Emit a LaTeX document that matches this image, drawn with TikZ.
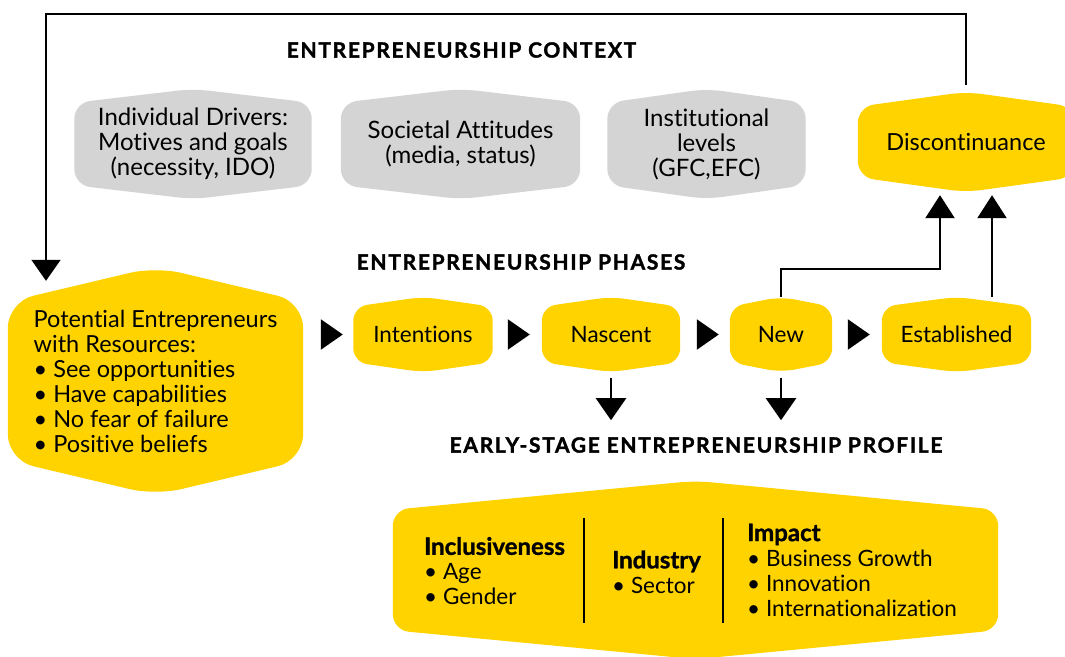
\documentclass[tikz,border=0pt]{standalone}
\usepackage{fontspec}
\setmainfont{Lato}[Ligatures=NoCommon, BoldFeatures={FakeBold=1.2}]
\newfontfamily\headfont{Lato}[Ligatures=NoCommon, LetterSpace=8, BoldFeatures={FakeBold=1.6}]
\usetikzlibrary{
    arrows.meta,
    backgrounds,
    positioning
}
\definecolor{gemyellow}{RGB}{255,211,0}
\definecolor{gemgrey}{RGB}{212,212,212}
\tikzset{
    hexnode/.style={inner sep=0pt, align=center, font=\fontsize{22.5}{25}\selectfont},
    greybox/.style={hexnode, font=\fontsize{24}{25}\selectfont, minimum height=82pt},
    phasebox/.style={hexnode, minimum height=55pt},
    listnode/.style={inner sep=0pt, align=left, anchor=west, font=\fontsize{22.5}{25}\selectfont},
    heading/.style={inner sep=0pt, font=\headfont\bfseries\fontsize{21}{23}\selectfont},
    bigtip/.style={-{Triangle[length=22pt,width=30pt]}, line width=2.4pt},
    uptip/.style={-{Triangle[length=23pt,width=29pt]}, line width=2.4pt}
}
\newcommand{\boxhead}[1]{{\fontsize{24}{25}\selectfont\bfseries #1}}

\begin{document}
\begin{tikzpicture}[x=1pt, y=-1pt]
    \useasboundingbox (0,0) rectangle (1065,656);

    % context
    \node[heading] (ctxtitle) at (461.5,50) {ENTREPRENEURSHIP CONTEXT};
    \node[greybox, minimum width=237pt] (drv) at (193,144)
        {Individual Drivers:\\Motives and goals\\(necessity, IDO)};
    \node[greybox, minimum width=239pt] (soc) at (460.5,144)
        {Societal Attitudes\\(media, status)};
    \node[greybox, minimum width=198pt] (inst) at (706.5,144)
        {Institutional\\levels\\(GFC,EFC)};
    \node[hexnode, font=\fontsize{23.5}{25}\selectfont, minimum width=216pt, minimum height=70pt] (disc) at (966,142)
        {Discontinuance};

    % phases
    \node[heading] (phtitle) at (521,262) {ENTREPRENEURSHIP PHASES};
    \node[hexnode, align=left, font=\fontsize{23.5}{25}\selectfont, minimum width=295pt, minimum height=158pt] (pot) at (155.5,381)
        {Potential Entrepreneurs\\with Resources:\\\textbullet\ See opportunities\\\textbullet\ Have capabilities\\\textbullet\ No fear of failure\\\textbullet\ Positive beliefs};
    \node[phasebox, minimum width=139pt] (int) at (423,334.5) {Intentions};
    \node[phasebox, minimum width=138pt] (nas) at (611,334.5) {Nascent};
    \node[phasebox, minimum width=102pt] (new) at (781,334.5) {New};
    \node[phasebox, minimum width=149pt] (est) at (956.5,334.5) {Established};

    % profile
    \node[heading] (proftitle) at (696,445) {EARLY-STAGE ENTREPRENEURSHIP PROFILE};
    \node[hexnode, minimum width=605pt, minimum height=120pt] (prof) at (695.5,570) {};
    \node[listnode] (inc) at (424,571)
        {\boxhead{Inclusiveness}\\\textbullet\ Age\\\textbullet\ Gender};
    \node[listnode] (ind) at (612,572)
        {\boxhead{Industry}\\\textbullet\ Sector};
    \node[listnode] (imp) at (747,570)
        {\boxhead{Impact}\\\textbullet\ Business Growth\\\textbullet\ Innovation\\\textbullet\ Internationalization};
    \draw[line width=1.2pt] (584,518) -- (584,623);
    \draw[line width=1.2pt] (723,518) -- (723,623);

    % hexagon backgrounds
    \begin{scope}[on background layer]
        \foreach \n/\p/\r/\c in {drv/14/16/gemgrey, soc/14/16/gemgrey, inst/14/16/gemgrey,
                                 disc/15/16/gemyellow, pot/35/26/gemyellow,
                                 int/10/14/gemyellow, nas/10/14/gemyellow, new/10/14/gemyellow,
                                 est/10/14/gemyellow, prof/29/16/gemyellow}
            \fill[\c, rounded corners=\r pt] (\n.south west) -- (\n.north west)
                -- ([yshift=\p pt]\n.north) -- (\n.north east) -- (\n.south east)
                -- ([yshift=-\p pt]\n.south) -- cycle;
    \end{scope}

    % feedback loop
    \draw[line width=1.6pt, -{Triangle[length=21pt,width=29pt]}]
        ([yshift=22pt]disc.north) -- ++(0,-71) -| ([xshift=-109.5pt,yshift=21pt]pot.north);

    % phase arrows
    \draw[bigtip, shorten <=18pt, shorten >=10.5pt] (int.west -| pot.east) -- (int.west);
    \draw[bigtip, shorten <=15.5pt, shorten >=12pt] (int.east) -- (nas.west);
    \draw[bigtip, shorten <=17pt, shorten >=11pt] (nas.east) -- (new.west);
    \draw[bigtip, shorten <=16pt, shorten >=12pt] (new.east) -- (est.west);

    % down to profile
    \draw[bigtip] ([yshift=-16pt]nas.south) -- ++(0,42);
    \draw[bigtip] ([yshift=-16pt]new.south) -- ++(0,42);

    % up to discontinuance
    \draw[uptip] ([yshift=10pt]new.north) -- ++(0,-28) -| ([xshift=-26pt,yshift=-18pt]disc.south);
    \draw[uptip] ([xshift=35.5pt,yshift=10pt]est.north) -- ([xshift=26pt,yshift=-18pt]disc.south);
\end{tikzpicture}
\end{document}
